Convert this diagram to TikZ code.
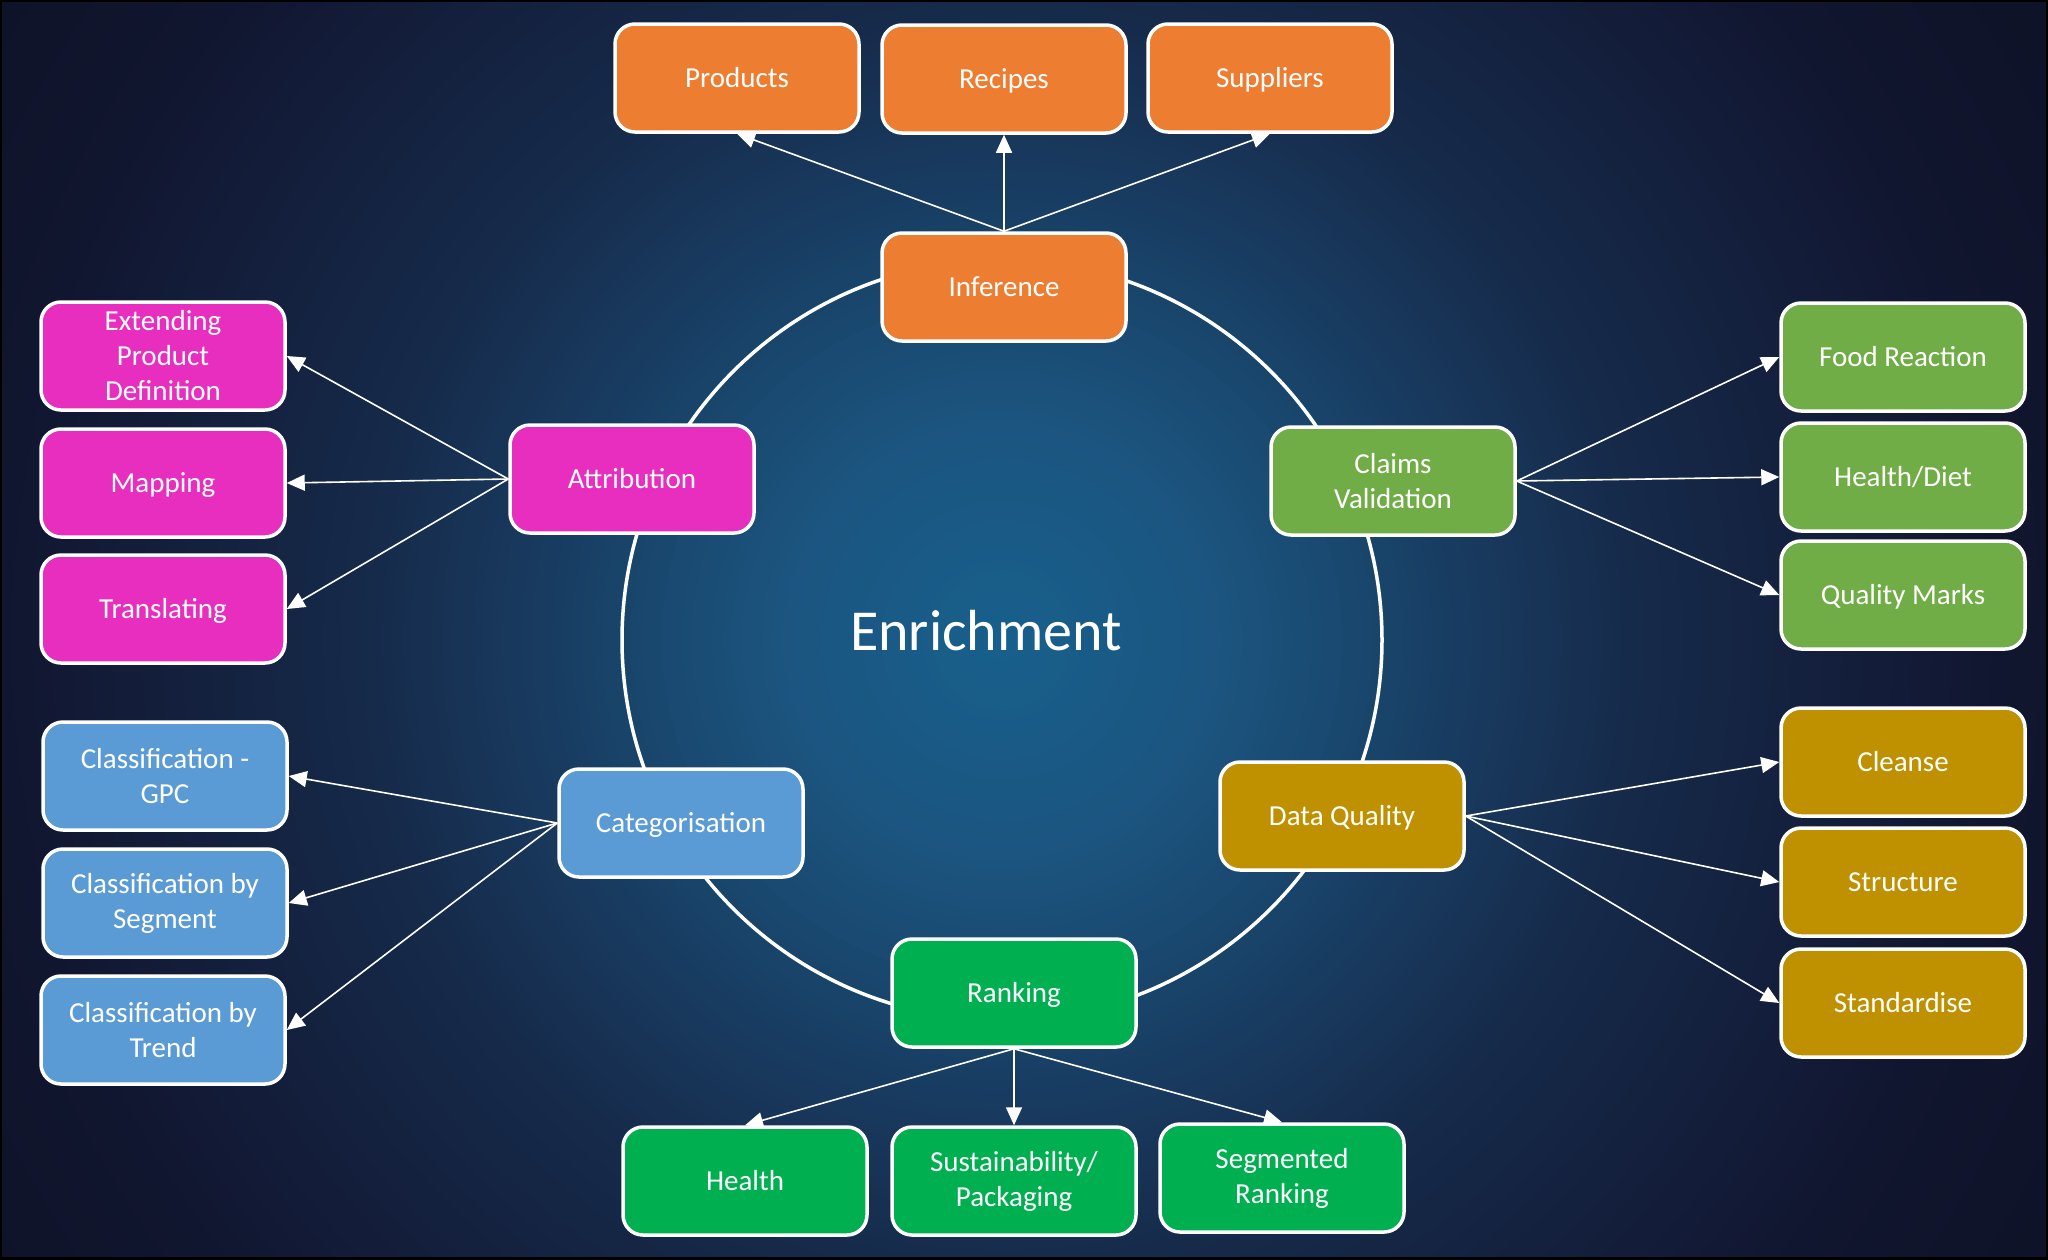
\documentclass[tikz,border=0pt]{standalone}
\usepackage{fontspec}
\setmainfont{Carlito}
\usetikzlibrary{arrows.meta}
\definecolor{bgA}{RGB}{24,96,141}
\definecolor{bgB}{RGB}{27,85,128}
\definecolor{bgC}{RGB}{22,42,74}
\definecolor{bgD}{RGB}{17,22,48}
\definecolor{bgE}{RGB}{15,19,40}
\definecolor{corange}{RGB}{237,125,49}
\definecolor{cpink}{RGB}{232,46,190}
\definecolor{cgreen}{RGB}{112,173,71}
\definecolor{cgold}{RGB}{191,144,0}
\definecolor{cblue}{RGB}{91,155,213}
\definecolor{cbright}{RGB}{0,176,80}
\tikzset{
  box/.style={rectangle, rounded corners=20pt, draw=white, line width=3.5pt,
    minimum width=244pt, minimum height=108pt, inner sep=0pt, text=white,
    align=center, font=\fontsize{29}{35}\selectfont},
  single/.style={box, text height=19pt, text depth=0pt},
  arr/.style={draw=white, line width=1.6pt, -{Triangle[length=18pt,width=16pt]}},
}
\begin{document}
\begin{tikzpicture}[x=1pt,y=-1pt]
\useasboundingbox (0,0) rectangle (2048,1259);
\begin{scope}
\clip (0,0) rectangle (2048,1259);
\fill[bgE] (0,0) rectangle (2048,1259);
\foreach \r in {1190,1180,...,1000}{
  \pgfmathsetmacro\t{(1200-\r)/2}
  \fill[color={bgD!\t!bgE}] (1002,640) circle (\r pt);
}
\foreach \r in {990,980,...,640}{
  \pgfmathsetmacro\t{(1000-\r)/3.6}
  \fill[color={bgC!\t!bgD}] (1002,640) circle (\r pt);
}
\foreach \r in {630,620,...,220}{
  \pgfmathsetmacro\t{(640-\r)/4.2}
  \fill[color={bgB!\t!bgC}] (1002,640) circle (\r pt);
}
\foreach \r in {210,200,...,10}{
  \pgfmathsetmacro\t{(220-\r)/2.2}
  \fill[color={bgA!\t!bgB}] (1002,640) circle (\r pt);
}
\draw[black, line width=4pt] (0,0) rectangle (2048,1259);
\end{scope}
% ring
\draw[white, line width=3.5pt] (1002,640) circle (380pt);
\node[text=white, font=\fontsize{58}{70}\selectfont] (title) at (986,631) {Enrichment};
% centre ring nodes
\node[single, fill=corange] (inf) at (1004,287) {Inference};
\node[single, fill=cpink] (attr) at (632,479) {Attribution};
\node[box, fill=cgreen] (claims) at (1393,481) {Claims\\Validation};
\node[single, fill=cblue] (cat) at (681,823) {Categorisation};
\node[single, fill=cgold] (dq) at (1342,816) {Data Quality};
\node[single, fill=cbright] (rank) at (1014,993) {Ranking};
% top
\node[single, fill=corange] (prod) at (737,78) {Products};
\node[single, fill=corange] (rec) at (1004,79) {Recipes};
\node[single, fill=corange] (sup) at (1270,78) {Suppliers};
% left pink
\node[box, fill=cpink] (ext) at (163,356) {Extending\\Product\\Definition};
\node[single, fill=cpink] (map) at (163,483) {Mapping};
\node[single, fill=cpink] (tra) at (163,609) {Translating};
% left blue
\node[box, fill=cblue] (gpc) at (165,776) {Classification -\\GPC};
\node[box, fill=cblue] (seg) at (165,903) {Classification by\\Segment};
\node[box, fill=cblue] (tre) at (163,1030) {Classification by\\Trend};
% right green
\node[single, fill=cgreen] (food) at (1903,357) {Food Reaction};
\node[single, fill=cgreen] (hd) at (1903,477) {Health/Diet};
\node[single, fill=cgreen] (qm) at (1903,595) {Quality Marks};
% right gold
\node[single, fill=cgold] (cle) at (1903,762) {Cleanse};
\node[single, fill=cgold] (str) at (1903,882) {Structure};
\node[single, fill=cgold] (std) at (1903,1003) {Standardise};
% bottom
\node[single, fill=cbright] (hea) at (745,1181) {Health};
\node[box, fill=cbright] (sus) at (1014,1181) {Sustainability/\\Packaging};
\node[box, fill=cbright] (sr) at (1282,1178) {Segmented\\Ranking};
% arrows
\draw[arr] (inf.north) -- (prod.south);
\draw[arr] (inf.north) -- (rec.south);
\draw[arr] (inf.north) -- (sup.south);
\draw[arr] (attr.west) -- (ext.east);
\draw[arr] (attr.west) -- (map.east);
\draw[arr] (attr.west) -- (tra.east);
\draw[arr] (claims.east) -- (food.west);
\draw[arr] (claims.east) -- (hd.west);
\draw[arr] (claims.east) -- (qm.west);
\draw[arr] (cat.west) -- (gpc.east);
\draw[arr] (cat.west) -- (seg.east);
\draw[arr] (cat.west) -- (tre.east);
\draw[arr] (dq.east) -- (cle.west);
\draw[arr] (dq.east) -- (str.west);
\draw[arr] (dq.east) -- (std.west);
\draw[arr] (rank.south) -- (hea.north);
\draw[arr] (rank.south) -- (sus.north);
\draw[arr] (rank.south) -- (sr.north);
\end{tikzpicture}
\end{document}
